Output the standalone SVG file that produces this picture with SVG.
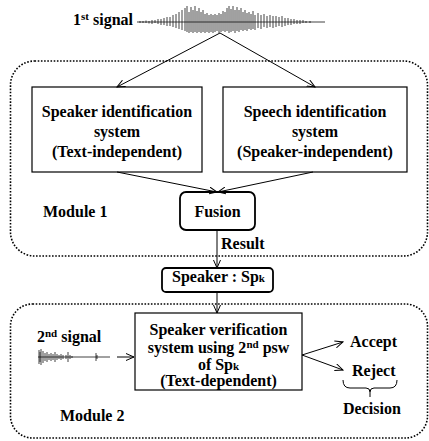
<svg xmlns="http://www.w3.org/2000/svg" width="429" height="441" viewBox="0 0 429 441" font-family="Liberation Serif, Times New Roman, DejaVu Serif, serif">
<defs>
<marker id="arr" markerWidth="9" markerHeight="8" refX="8" refY="4" orient="auto" markerUnits="userSpaceOnUse">
<path d="M0,0.5 L8,4 L0,7.5" fill="none" stroke="#000" stroke-width="1"/>
</marker>
<style>
text{font-family:'Liberation Serif','Times New Roman','DejaVu Serif',serif;font-weight:bold;font-size:16px;fill:#000}
.c{text-anchor:middle}
.box{fill:#fff;stroke:#000;stroke-width:1.2}
.rbox{fill:#fff;stroke:#000;stroke-width:1.8}
.mod{fill:none;stroke:#000;stroke-width:1.6;stroke-dasharray:1.6 1.6}
.con{fill:none;stroke:#000;stroke-width:1;marker-end:url(#arr)}
.wave{fill:none;stroke:#111;stroke-width:0.8}
.sup{font-size:11px}
</style>
</defs>
<g id="module1"><rect class="mod" x="10.5" y="61" width="417" height="195" rx="24"/><text x="43" y="217">Module 1</text></g>
<g id="module2"><rect class="mod" x="10.5" y="304" width="417" height="134" rx="22"/><text x="60" y="421">Module 2</text></g>
<g id="signal1">
<text x="73" y="25">1<tspan class="sup" dy="-5">st</tspan><tspan dy="5"> signal</tspan></text>
<path class="wave" stroke-width="0.6" d="M137,22 H325"/>
<path class="wave" d="M140,21V23M143,21V23M146,20.5V23M149,21V23.5M152,20V24M155,20V23M158,19V24M161,19V25M164,18V25M167,17V26M170,17V26M173,15V27M176,14V28M179,12V29M182,10V30M185,8V31M187,6V32M189,12V33M191,7V32M193,10V33M195,6V32M197,11V33M199,8V32M201,12V33M203,10V32M205,14V33M207,13V32M209,15V33M211,14V32M213,15V33M215,14V32M217,15V31M219,13V33M221,14V32M223,11V31M225,12V32M227,8V31M229,6V33M231,9V32M233,6V31M235,10V33M237,7V31M239,10V32M241,8V30M243,12V31M245,10V30M247,13V31M249,12V29M251,14V30M253,11V29M255,15V30M258,13V28M261,15V29M264,14V27M267,16V28M270,15V27M273,16V28M276,16V27M279,17V26M282,16V27M285,18V26M288,18V25M291,19V25M294,19V24M297,20V24M300,20V24M303,20V23M306,21V23M310,21V23"/>
</g>
<g id="spkid"><rect class="box" x="32" y="87" width="170" height="85"/>
<text class="c" x="117" y="117">Speaker identification</text><text class="c" x="117" y="137">system</text><text class="c" x="117" y="157">(Text-independent)</text></g>
<g id="speechid"><rect class="box" x="223" y="87" width="184" height="85"/>
<text class="c" x="315" y="117">Speech identification</text><text class="c" x="315" y="137">system</text><text class="c" x="315" y="157">(Speaker-independent)</text></g>
<g id="fusion"><rect class="rbox" x="180" y="192" width="75" height="38" rx="6"/><text class="c" x="217.5" y="217">Fusion</text></g>
<g id="speaker"><rect class="rbox" x="162" y="268" width="111" height="24" rx="4"/><text x="172" y="282">Speaker : Sp<tspan class="sup">k</tspan></text></g>
<g id="signal2">
<text x="37" y="342">2<tspan class="sup" dy="-5">nd</tspan><tspan dy="5"> signal</tspan></text>
<path class="wave" stroke-width="0.6" d="M38,357 H110"/>
<path class="wave" d="M39,350V364M40,352V362M41,349V365M43,351V363M45,353V361M47,352V362M49,354V360M51,353V361M53,354V360M55,352V362M57,354V360M59,355V359M61,354V360M63,355V359M66,355V359M68,352V362M70,355V359M72,356V358M96,353V361M97,355V359"/>
</g>
<g id="verif"><rect class="box" x="135" y="313" width="167" height="77"/>
<text class="c" x="218.5" y="335">Speaker verification</text>
<text class="c" x="218.5" y="353">system using 2<tspan class="sup" dy="-5">nd</tspan><tspan dy="5"> psw</tspan></text>
<text class="c" x="218.5" y="370">of Sp<tspan class="sup">k</tspan></text>
<text class="c" x="218.5" y="386">(Text-dependent)</text></g>
<g id="accept"><text x="350" y="347">Accept</text></g>
<g id="reject"><text x="352" y="376">Reject</text></g>
<g id="decision"><path d="M343,380 Q343,388 350,388 H366 Q370,388 370,392 V397 M370,392 Q370,388 374,388 H390 Q397,388 397,380" fill="none" stroke="#000" stroke-width="1"/><text x="343" y="414">Decision</text></g>
<g id="connectors">
<path class="con" d="M220,33 L117,87"/>
<path class="con" d="M220,33 L315,87"/>
<path class="con" d="M117,172 L217,192"/>
<path class="con" d="M313,172 L218,192"/>
<path class="con" d="M217,230 V268"/>
<text x="221" y="249">Result</text>
<path class="con" d="M217,292 V313"/>
<path class="con" d="M117,357 H134"/>
<path class="con" d="M302,355 L343,342"/>
<path class="con" d="M302,355 L343,370"/>
</g>
</svg>
